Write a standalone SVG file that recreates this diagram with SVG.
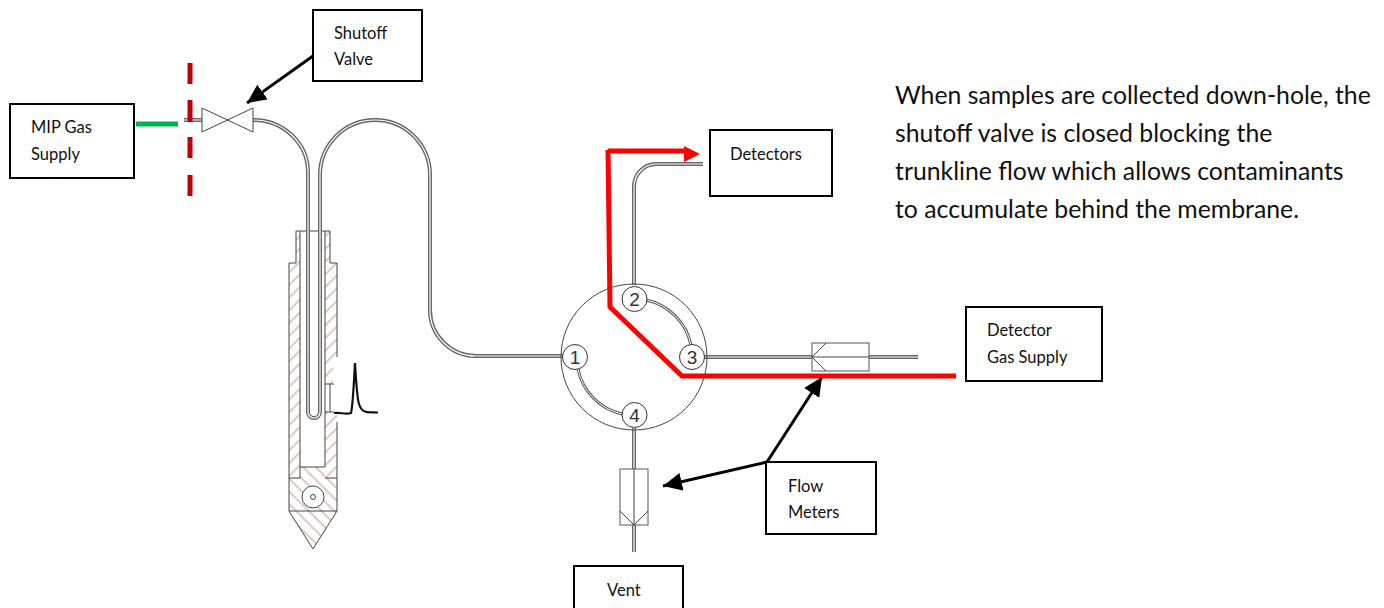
<svg xmlns="http://www.w3.org/2000/svg" width="1384" height="608" viewBox="0 0 1384 608">
<style>
text{font-family:"Lato","Open Sans","Liberation Sans",sans-serif;fill:#111}
.box{fill:#fff;stroke:#000;stroke-width:2}
.lbl{font-size:16.5px}
.para{font-size:24.8px}
.to{fill:none;stroke:#666;stroke-width:4}
.ti{fill:none;stroke:#fff;stroke-width:1.2}
.thin{fill:none;stroke:#444;stroke-width:1}
.port{fill:#fff;stroke:#333;stroke-width:1}
.num{font-family:"Liberation Sans",sans-serif;font-size:19px;text-anchor:middle;fill:#333}
.red{fill:none;stroke:#f00;stroke-width:5}
.arr{fill:none;stroke:#000;stroke-width:3}
</style>
<defs>
<pattern id="h1" width="9" height="9" patternUnits="userSpaceOnUse" patternTransform="rotate(45)"><line x1="1" y1="0" x2="1" y2="9" stroke="#b05a5a" stroke-width="0.7"/></pattern>
<pattern id="h2" width="9" height="9" patternUnits="userSpaceOnUse" patternTransform="rotate(-45)"><line x1="1" y1="0" x2="1" y2="9" stroke="#b05a5a" stroke-width="0.7"/></pattern>
<marker id="ah" markerUnits="userSpaceOnUse" markerWidth="22" markerHeight="20" refX="19" refY="9" orient="auto"><path d="M0 0L19 9L0 18z" fill="#000"/></marker>
</defs>
<g id="probe">
<path d="M296 231H300V478H289V263H296z" fill="url(#h1)"/>
<path d="M325 231H330V263H337V357H333V384H325z" fill="url(#h1)"/>
<path d="M325 412H337V478H325z" fill="url(#h1)"/>
<path d="M300 467H325V478H337V511L313 549L289 511V478H300z" fill="url(#h2)"/>
<path class="thin" d="M289 511V263H296V231H330V263H337V357M337 422V511L313 549L289 511H337M289 478H300V231M300 467H325V231M325 478H337M325 384H334M325 412H334M330 384V412"/>
<circle cx="313" cy="497" r="11" fill="#fff" stroke="#444"/>
<circle cx="313" cy="497" r="2.500" fill="#fff" stroke="#444"/>
<path d="M334 413C340 412 346 415 351 413C353 405 354 380 355 363C356 380 357 398 359 404C362 414 368 412 378 412.500" fill="none" stroke="#111" stroke-width="2.200"/>
</g>
<g id="connectors">
<path id="tube" class="to" d="M184 120H202M253 120A55 52 0 0 1 308 172V412A6 6 0 0 0 320 412V175A55 55 0 0 1 375 120A55 55 0 0 1 430 175V310A46 46 0 0 0 476 356H563"/>
<path class="ti" d="M184 120H202M253 120A55 52 0 0 1 308 172V412A6 6 0 0 0 320 412V175A55 55 0 0 1 375 120A55 55 0 0 1 430 175V310A46 46 0 0 0 476 356H563"/>
<path class="to" d="M634 285V187A22 23 0 0 1 656 164H703M704 357H812M869 357H918M634 428V469M634 525V552"/>
<path class="ti" d="M634 285V187A22 23 0 0 1 656 164H703M704 357H812M869 357H918M634 428V469M634 525V552"/>
<path d="M136 124H178" stroke="#00b050" stroke-width="5" fill="none"/>
<path d="M190 63V84M190 100V122M190 137V158M190 175V196" stroke="#c00000" stroke-width="5" fill="none"/>
<path class="arr" d="M313 56L247 103" marker-end="url(#ah)"/>
<path class="arr" d="M767 462L822 377" marker-end="url(#ah)"/>
<path class="arr" d="M767 462L663 486" marker-end="url(#ah)"/>
</g>
<g id="valve"><path d="M202 108L253 132V108L202 132z" fill="#fff" stroke="#444"/></g>
<g id="rotary-valve">
<circle cx="634" cy="357" r="73" fill="none" stroke="#444"/>
<path d="M646 300A58 58 0 0 1 691 345M578 369A58 58 0 0 0 622 414" fill="none" stroke="#555" stroke-width="3"/>
<path d="M646 300A58 58 0 0 1 691 345M578 369A58 58 0 0 0 622 414" fill="none" stroke="#fff" stroke-width="1"/>
<g id="port1"><circle class="port" cx="575" cy="357" r="12.500"/><text class="num" x="575" y="364">1</text></g>
<g id="port2"><circle class="port" cx="634.500" cy="299" r="12.500"/><text class="num" x="634.500" y="306">2</text></g>
<g id="port3"><circle class="port" cx="692" cy="357" r="12.500"/><text class="num" x="692" y="364">3</text></g>
<g id="port4"><circle class="port" cx="634.500" cy="415" r="12.500"/><text class="num" x="634.500" y="422">4</text></g>
</g>
<g id="meter-right"><rect x="812" y="343" width="57" height="28" fill="#fff" stroke="#555"/><path class="thin" d="M812 357H869M826 343L812 357L826 371"/></g>
<g id="meter-bottom"><rect x="620" y="469" width="28" height="56" fill="#fff" stroke="#555"/><path class="thin" d="M634 469V525M620 511L634 525L648 511"/></g>
<g id="red-path">
<path class="red" d="M608 151H686M608 150L610 307L682 376H956"/>
<path d="M684 146L700 154L684 162z" fill="#f00"/>
</g>
<g id="mip"><rect class="box" x="10" y="104" width="124" height="74"/><text class="lbl" x="31" y="133">MIP Gas</text><text class="lbl" x="31" y="160">Supply</text></g>
<g id="shutoff"><rect class="box" x="313" y="10" width="109" height="71"/><text class="lbl" x="334" y="39">Shutoff</text><text class="lbl" x="334" y="65">Valve</text></g>
<g id="detectors"><rect class="box" x="710" y="130" width="122" height="66"/><text class="lbl" x="730" y="160">Detectors</text></g>
<g id="detector-gas"><rect class="box" x="966" y="307" width="136" height="74"/><text class="lbl" x="987" y="336">Detector</text><text class="lbl" x="987" y="363">Gas Supply</text></g>
<g id="flow"><rect class="box" x="766" y="462" width="110" height="72"/><text class="lbl" x="788" y="492">Flow</text><text class="lbl" x="788" y="518">Meters</text></g>
<g id="vent"><rect class="box" x="574" y="566" width="109" height="50"/><text class="lbl" x="607" y="596">Vent</text></g>
<g id="note"><text class="para" x="895" y="104">When samples are collected down-hole, the</text><text class="para" x="895" y="142">shutoff valve is closed blocking the</text><text class="para" x="895" y="180">trunkline flow which allows contaminants</text><text class="para" x="895" y="218">to accumulate behind the membrane.</text></g>
</svg>
